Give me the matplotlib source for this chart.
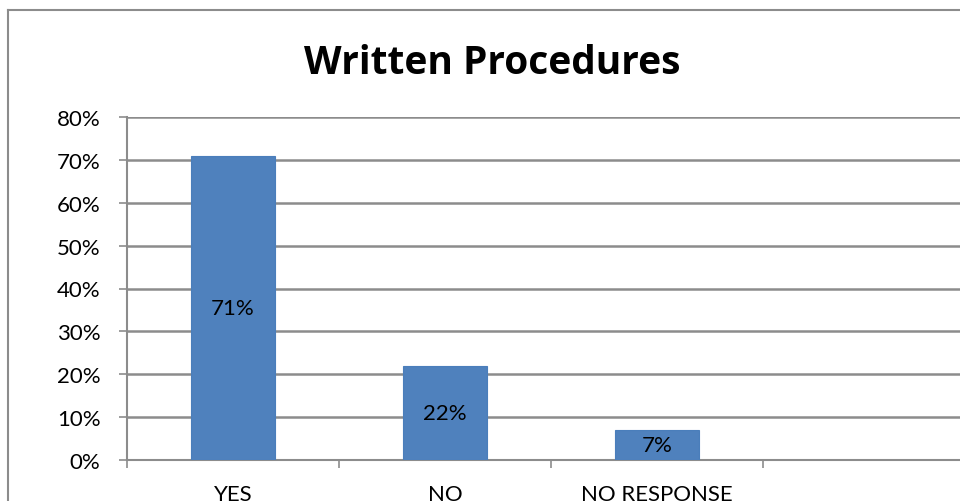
import matplotlib
matplotlib.use('Agg')
import matplotlib.pyplot as plt
from matplotlib.lines import Line2D

categories = ['YES', 'NO', 'NO RESPONSE', '']
values = [71, 22, 7, None]
bar_labels = ['71%', '22%', '7%']
yticks = [0, 10, 20, 30, 40, 50, 60, 70, 80]

W, H = 960, 502
fig = plt.figure(figsize=(9.6, 5.02), dpi=100)
plt.rcParams['font.family'] = ['Lato', 'DejaVu Sans']

# plot area in pixel coords from the reference (extends past the right edge)
x0, x1 = 127, 975
y0, y1 = 461, 118
ax = fig.add_axes([x0 / W, 1 - y0 / H, (x1 - x0) / W, (y0 - y1) / H])

xs = range(len(categories))
vals = [v for v in values if v is not None]
bars = ax.bar(list(xs)[:len(vals)], vals, width=0.4, color='#4F81BD',
              edgecolor='#4A7EBB', linewidth=0.8, zorder=3)
for b, lab in zip(bars, bar_labels):
    ax.text(b.get_x() + b.get_width() / 2, b.get_height() / 2, lab,
            ha='center', va='center', fontsize=16, color='black', zorder=4)

ax.set_xlim(-0.5, len(categories) - 0.5)
ax.set_ylim(0, 80)
ax.set_yticks(yticks)
ax.set_yticklabels([f'{t}%' for t in yticks], fontsize=16)
ax.yaxis.grid(True, color='#8C8C8C', linewidth=1.8, zorder=0)
ax.set_axisbelow(True)

# category boundaries get the tick marks, names sit in the middle of each slot
ax.set_xticks([i - 0.5 for i in range(len(categories) + 1)])
ax.set_xticklabels([])
ax.set_xticks(list(xs), minor=True)
ax.set_xticklabels(categories, minor=True, fontsize=16)
ax.tick_params(axis='x', which='minor', length=0, pad=17)
ax.tick_params(axis='x', which='major', length=6, width=1.2, color='#8C8C8C')
ax.tick_params(axis='y', length=6, width=1.2, color='#8C8C8C', pad=13)

for s in ['top', 'right']:
    ax.spines[s].set_visible(False)
for s in ['left', 'bottom']:
    ax.spines[s].set_color('#8C8C8C')
    ax.spines[s].set_linewidth(1.5)

fig.text(492 / W, 1 - 63 / H, 'Written Procedures', ha='center', va='center',
         fontsize=28, fontweight='bold', family=['Open Sans', 'DejaVu Sans'])

# outer chart border
fig.add_artist(Line2D([8 / W, 8 / W], [0, 1 - 11 / H], color='#8C8C8C', linewidth=1.5))
fig.add_artist(Line2D([8 / W, 1], [1 - 11 / H, 1 - 11 / H], color='#8C8C8C', linewidth=1.5))

fig.savefig('out.png', dpi=100)
